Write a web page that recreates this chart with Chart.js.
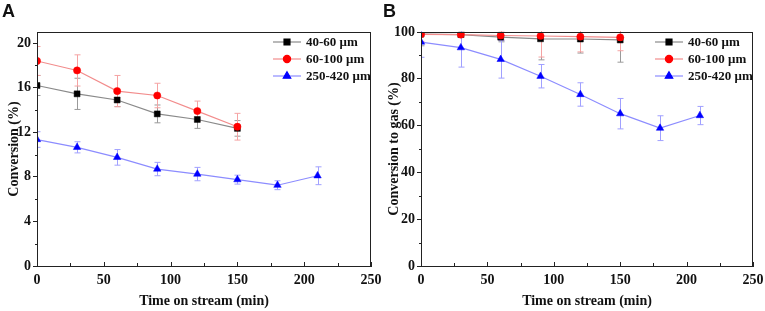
<!DOCTYPE html>
<html>
<head>
<meta charset="utf-8">
<script src="https://cdn.jsdelivr.net/npm/chart.js@4.4.1/dist/chart.umd.min.js"></script>
<style>
  body { margin: 0; background: #fff; }
  #wrap { position: relative; width: 765px; height: 311px; }
  .panel { position: absolute; top: 0; }
  .tag { position: absolute; top: 1px; font: bold 18px "Liberation Sans", Arial, sans-serif; color: #111; }
</style>
</head>
<body>
<div id="wrap">
  <canvas id="chartA" class="panel" style="left:0" width="385" height="311"></canvas>
  <canvas id="chartB" class="panel" style="left:380px" width="385" height="311"></canvas>
  <div class="tag" style="left:2px">A</div>
  <div class="tag" style="left:383px">B</div>
</div>
<script>
// Time on stream (min)
const timeLong = [0, 30, 60, 90, 120, 150, 180, 210];
const timeShort = [0, 30, 60, 90, 120, 150];
const seriesNames = ['40-60 \u03bcm', '60-100 \u03bcm', '250-420 \u03bcm'];

// Panel A: conversion (%)
const convSmall = [16.2, 15.45, 14.9, 13.65, 13.15, 12.35];
const convSmallErr = [0.9, 1.4, 0.6, 0.8, 0.8, 0.7];
const convMid = [18.4, 17.55, 15.7, 15.3, 13.9, 12.5];
const convMidErr = [1.3, 1.4, 1.4, 1.1, 0.9, 1.2];
const convLarge = [11.35, 10.65, 9.75, 8.7, 8.25, 7.75, 7.25, 8.1];
const convLargeErr = [0.7, 0.5, 0.7, 0.6, 0.6, 0.4, 0.4, 0.8];

// Panel B: conversion to gas (%)
const gasSmall = [99.1, 98.9, 97.8, 97.1, 97.0, 96.6];
const gasSmallErr = [5, 1, 2, 9, 6, 9.5];
const gasMid = [99.0, 98.9, 98.5, 98.3, 98.0, 97.7];
const gasMidErr = [3, 1, 2, 9, 6.5, 5.7];
const gasLarge = [95.7, 93.3, 88.3, 81.1, 73.3, 65.1, 58.9, 64.3];
const gasLargeErr = [6.5, 8.3, 8, 5, 5, 6.5, 5.3, 3.9];

const styles = [
    { line: '#8a8a8a', point: '#000000', err: '#9a9a9a', shape: 'rect', radius: 4.2 },
    { line: '#f28c8c', point: '#ff0000', err: '#f5a3a3', shape: 'circle', radius: 3.6 },
    { line: '#8c8cff', point: '#0000ff', err: '#a0a0ff', shape: 'triangle', radius: 4.3 }
];

const serif = '"Liberation Serif", "Times New Roman", serif';

function makeDatasets(values, errors) {
    return values.map((vals, i) => {
        const xs = vals.length === timeLong.length ? timeLong : timeShort;
        return {
            label: seriesNames[i],
            data: vals.map((v, k) => ({ x: xs[k], y: v, e: errors[i][k] })),
            borderColor: styles[i].line,
            borderWidth: 1.2,
            backgroundColor: styles[i].point,
            pointBackgroundColor: styles[i].point,
            pointBorderColor: styles[i].point,
            pointBorderWidth: 0.5,
            pointStyle: styles[i].shape,
            pointRadius: styles[i].radius,
            errColor: styles[i].err,
            order: 2 - i
        };
    });
}

// error bars drawn through the scales
const errorBars = {
    id: 'errorBars',
    beforeDatasetsDraw(chart) {
        const { ctx, scales: { x, y }, chartArea } = chart;
        ctx.save();
        ctx.beginPath();
        ctx.rect(chartArea.left, chartArea.top - 1, chartArea.width, chartArea.height + 2);
        ctx.clip();
        chart.data.datasets.forEach(ds => {
            ctx.strokeStyle = ds.errColor;
            ctx.lineWidth = 1;
            ds.data.forEach(p => {
                const px = Math.round(x.getPixelForValue(p.x)) + 0.5;
                const top = y.getPixelForValue(p.y + p.e);
                const bot = y.getPixelForValue(p.y - p.e);
                ctx.beginPath();
                ctx.moveTo(px, top); ctx.lineTo(px, bot);
                ctx.moveTo(px - 3, top); ctx.lineTo(px + 3, top);
                ctx.moveTo(px - 3, bot); ctx.lineTo(px + 3, bot);
                ctx.stroke();
            });
        });
        ctx.restore();
    }
};

// frame, inward x ticks, minor y ticks and inside legend
const decorations = {
    id: 'decorations',
    afterDraw(chart) {
        const { ctx, chartArea: a, scales: { x, y } } = chart;
        const minor = chart.options.minorStep;
        ctx.save();
        ctx.strokeStyle = '#222';
        ctx.lineWidth = 1;
        ctx.strokeRect(a.left + 0.5, a.top + 0.5, a.width - 1, a.height);
        ctx.beginPath();
        for (let v = 0; v <= 250; v += 25) {
            const px = Math.round(x.getPixelForValue(v)) + 0.5;
            ctx.moveTo(px, a.bottom); ctx.lineTo(px, a.bottom - (v % 50 === 0 ? 4 : 3));
        }
        for (let v = minor; v < y.max; v += 2 * minor) {
            const py = Math.round(y.getPixelForValue(v)) + 0.5;
            ctx.moveTo(a.left, py); ctx.lineTo(a.left - 2, py);
        }
        ctx.stroke();

        ctx.font = 'bold 13px ' + serif;
        ctx.textBaseline = 'middle';
        chart.data.datasets.forEach((ds, i) => {
            const yy = a.top + 10 + i * 17;
            const x0 = a.right - 98;
            ctx.strokeStyle = ds.borderColor;
            ctx.lineWidth = 1.2;
            ctx.beginPath();
            ctx.moveTo(x0, yy); ctx.lineTo(x0 + 28, yy);
            ctx.stroke();
            ctx.fillStyle = ds.pointBackgroundColor;
            ctx.strokeStyle = ds.pointBorderColor;
            Chart.helpers.drawPoint(ctx, { pointStyle: ds.pointStyle, radius: ds.pointRadius, borderWidth: 0.5 }, x0 + 14, yy);
            ctx.fillStyle = '#111';
            ctx.fillText(ds.label, a.right - 65, yy + 1);
        });
        ctx.restore();
    }
};

function buildChart(id, datasets, yMax, yLabelStep, yTitle, yWidth, rightPad) {
    return new Chart(document.getElementById(id), {
        type: 'line',
        data: { datasets },
        plugins: [errorBars, decorations],
        options: {
            responsive: false,
            animation: false,
            minorStep: yLabelStep / 2,
            layout: { padding: { top: 32, right: rightPad, left: 0, bottom: 0 } },
            plugins: { legend: { display: false }, tooltip: { enabled: false } },
            scales: {
                x: {
                    type: 'linear',
                    min: 0, max: 250,
                    afterFit: s => { s.height = 45; s.paddingLeft = 0; s.paddingRight = 0; },
                    border: { color: '#222', width: 1 },
                    grid: { drawOnChartArea: false, drawTicks: false, tickLength: 0 },
                    ticks: {
                        stepSize: 50, padding: 6, color: '#111', maxRotation: 0,
                        font: { family: serif, size: 14, weight: 'bold' }
                    },
                    title: {
                        display: true, text: 'Time on stream (min)', color: '#111',
                        padding: { top: 0, bottom: 1 },
                        font: { family: serif, size: 14, weight: 'bold' }
                    }
                },
                y: {
                    min: 0, max: yMax,
                    afterFit: s => { s.width = yWidth; s.paddingTop = 0; s.paddingBottom = 0; },
                    afterBuildTicks: s => {
                        s.ticks = [];
                        for (let v = 0; v <= yMax; v += yLabelStep) s.ticks.push({ value: v });
                    },
                    border: { color: '#222', width: 1 },
                    grid: { drawOnChartArea: false, tickLength: 4, color: '#222' },
                    ticks: {
                        padding: 2, color: '#111',
                        font: { family: serif, size: 14, weight: 'bold' }
                    },
                    title: {
                        display: true, text: yTitle, color: '#111',
                        padding: { top: 6, bottom: 0 },
                        font: { family: serif, size: 14, weight: 'bold' }
                    }
                }
            }
        }
    });
}

buildChart('chartA', makeDatasets([convSmall, convMid, convLarge], [convSmallErr, convMidErr, convLargeErr]),
    21, 4, 'Conversion (%)', 37, 14);
buildChart('chartB', makeDatasets([gasSmall, gasMid, gasLarge], [gasSmallErr, gasMidErr, gasLargeErr]),
    100, 20, 'Conversion to gas (%)', 41, 12);
</script>
</body>
</html>
